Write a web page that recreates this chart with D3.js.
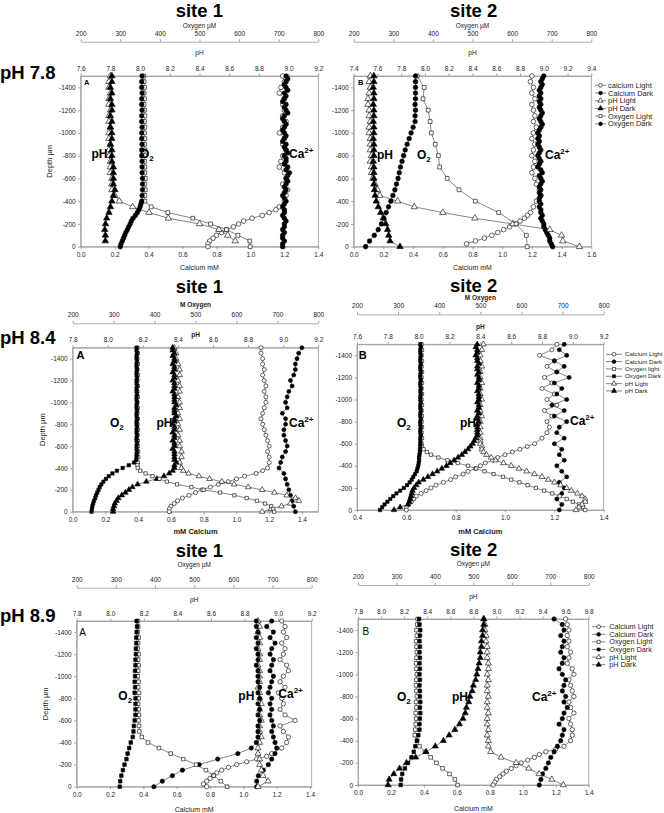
<!DOCTYPE html>
<html>
<head>
<meta charset="utf-8">
<script src="https://d3js.org/d3.v7.min.js"></script>
<style>
  html, body { margin: 0; padding: 0; background: #fff; }
  svg { display: block; font-family: 'Liberation Sans', Arial, sans-serif; }
</style>
</head>
<body>
<script>
// depth steps (µm) used by the profiles
const DEPTH_25 = [
  -1500, -1475, -1450, -1425, -1400, -1375, -1350, -1325, -1300, -1275,
  -1250, -1225, -1200, -1175, -1150, -1125, -1100, -1075, -1050, -1025,
  -1000, -975, -950, -925, -900, -875, -850, -825, -800, -775,
  -750, -725, -700, -675, -650, -625, -600, -575, -550, -525,
  -500, -475, -450, -425, -400, -375, -350, -325, -300, -275,
  -250, -225, -200, -175, -150, -125, -100, -75, -50, -25,
  0];
const DEPTH_50 = [
  -1500, -1450, -1400, -1350, -1300, -1250, -1200, -1150, -1100, -1050,
  -1000, -950, -900, -850, -800, -750, -700, -650, -600, -550,
  -500, -450, -400, -350, -300, -250, -200, -150, -100, -50,
  0];
const zip = (ds, vs) => vs.map((v, i) => [ds[i], v]);

const DEPTH_TICKS = [-1400, -1200, -1000, -800, -600, -400, -200, 0];
const OXY_TICKS = [200, 300, 400, 500, 600, 700, 800];

// ---------- pH 7.8, site 1 ----------
const p1CaLight = [[-1500,1.19],[-1450,1.20],[-1400,1.18],[-1350,1.17],[-1300,1.20],[-1250,1.19],[-1200,1.20],[-1150,1.19],[-1100,1.21],[-1050,1.19],[-1000,1.17],[-950,1.20],[-900,1.19],[-850,1.21],[-800,1.19],[-750,1.18],[-700,1.17],[-650,1.20],[-600,1.21],[-550,1.19],[-500,1.22],[-450,1.21],[-400,1.20],[-350,1.17],[-325,1.15],[-300,1.11],[-275,1.07],[-250,1.01],[-225,0.96],[-200,0.93],[-175,0.90],[-150,0.86],[-125,0.83],[-100,0.80],[-75,0.78],[-50,0.76],[-25,0.75],[0,0.75]];
const p1CaDark = zip(DEPTH_25, [
  1.21,1.22,1.21,1.20,1.21,1.22,1.20,1.21,1.20,1.19,
  1.21,1.20,1.21,1.22,1.20,1.19,1.20,1.21,1.20,1.19,
  1.20,1.21,1.20,1.19,1.21,1.20,1.21,1.22,1.20,1.21,
  1.21,1.20,1.22,1.21,1.23,1.22,1.21,1.22,1.21,1.20,
  1.21,1.20,1.19,1.20,1.21,1.20,1.19,1.20,1.20,1.19,
  1.20,1.21,1.20,1.20,1.19,1.20,1.19,1.19,1.20,1.19,
  1.19]);
const p1PhLight = zip(DEPTH_50, [
  7.80,7.79,7.79,7.80,7.79,7.79,7.80,7.79,7.79,7.80,
  7.79,7.79,7.80,7.79,7.79,7.80,7.80,7.80,7.81,7.81,
  7.81,7.83,7.86,7.95,8.06,8.19,8.40,8.53,8.59,8.64]);
const p1PhDark = zip(DEPTH_50, [
  7.81,7.81,7.80,7.81,7.80,7.81,7.81,7.80,7.81,7.80,
  7.81,7.81,7.80,7.81,7.81,7.81,7.82,7.82,7.82,7.82,
  7.83,7.82,7.81,7.80,7.79,7.775,7.767,7.762,7.766,7.766]);
const p1O2Light = zip(DEPTH_50, [
  359,360,361,360,361,360,361,362,361,362,
  361,362,361,362,362,361,362,362,363,362,
  363,362,362,378,420,483,528,568,597,627,
  628]);
const p1O2Dark = [[-1500,355],[-1450,354],[-1400,354],[-1350,355],[-1300,354],[-1250,354],[-1200,355],[-1150,354],[-1100,354],[-1050,355],[-1000,354],[-950,354],[-900,355],[-850,354],[-800,354],[-750,355],[-700,355],[-650,355],[-600,356],[-550,356],[-500,356],[-450,355],[-400,354],[-375,352],[-350,350],[-325,347],[-300,343],[-275,338],[-250,332],[-225,328],[-200,325],[-175,321],[-150,318],[-125,314],[-100,311],[-75,308],[-50,305],[-25,302],[0,300]];

// ---------- pH 7.8, site 2 ----------
const p2CaLight = [[-1500,1.20],[-1450,1.19],[-1400,1.21],[-1350,1.20],[-1300,1.22],[-1250,1.20],[-1200,1.21],[-1150,1.22],[-1100,1.21],[-1050,1.23],[-1000,1.21],[-950,1.20],[-900,1.22],[-850,1.21],[-800,1.20],[-750,1.22],[-700,1.21],[-650,1.20],[-600,1.22],[-550,1.23],[-500,1.25],[-450,1.26],[-400,1.23],[-350,1.21],[-300,1.19],[-275,1.17],[-250,1.15],[-225,1.12],[-200,1.09],[-175,1.05],[-150,1.01],[-125,0.97],[-100,0.93],[-75,0.88],[-50,0.82],[-25,0.76]];
const p2CaDark = zip(DEPTH_25, [
  1.28,1.27,1.26,1.27,1.26,1.25,1.26,1.25,1.26,1.25,
  1.26,1.25,1.26,1.27,1.26,1.25,1.26,1.27,1.26,1.25,
  1.24,1.25,1.24,1.25,1.24,1.25,1.26,1.25,1.24,1.25,
  1.26,1.25,1.24,1.26,1.27,1.25,1.26,1.27,1.26,1.25,
  1.26,1.25,1.26,1.25,1.25,1.26,1.25,1.26,1.26,1.27,
  1.26,1.27,1.28,1.28,1.29,1.30,1.31,1.32,1.32,1.33,
  1.34]);
const p2PhLight = zip(DEPTH_50, [
  7.54,7.53,7.54,7.53,7.52,7.52,7.53,7.53,7.54,7.53,
  7.53,7.54,7.54,7.54,7.55,7.54,7.55,7.55,7.56,7.58,
  7.60,7.62,7.77,7.91,8.15,8.42,8.74,9.05,9.15,9.16,
  9.30]);
const p2PhDark = zip(DEPTH_50, [
  7.57,7.57,7.565,7.57,7.57,7.565,7.57,7.57,7.565,7.57,
  7.57,7.565,7.57,7.57,7.57,7.565,7.57,7.57,7.57,7.57,
  7.575,7.58,7.59,7.607,7.627,7.649,7.67,7.685,7.695,7.706,
  7.79]);
const p2O2Light = [[-1500,360],[-1400,378],[-1300,375],[-1200,388],[-1100,393],[-1000,396],[-900,406],[-800,414],[-700,417],[-600,436],[-500,466],[-400,507],[-300,566],[-200,610],[-100,636],[0,638]];
const p2O2Dark = zip(DEPTH_50, [
  356,356,356,356,356,355,356,355,355,350,
  345,340,335,330,326,322,318,315,312,308,
  304,299,294,288,282,276,270,262,252,240,
  230]);

// ---------- pH 8.4, site 1 ----------
const p3CaLight = [[-1500,1.15],[-1450,1.15],[-1400,1.16],[-1350,1.16],[-1300,1.17],[-1250,1.16],[-1200,1.17],[-1150,1.18],[-1100,1.17],[-1050,1.18],[-1000,1.18],[-950,1.17],[-900,1.16],[-850,1.15],[-800,1.16],[-750,1.17],[-700,1.18],[-650,1.19],[-600,1.20],[-550,1.19],[-500,1.20],[-450,1.20],[-400,1.19],[-375,1.16],[-350,1.12],[-325,1.05],[-300,1.00],[-275,0.95],[-250,0.89],[-225,0.84],[-200,0.79],[-175,0.75],[-150,0.71],[-125,0.67],[-100,0.64],[-75,0.62],[-50,0.60],[-25,0.59],[0,0.59]];
const p3CaDark = zip(DEPTH_50, [
  1.40,1.38,1.37,1.36,1.36,1.35,1.33,1.34,1.32,1.31,
  1.30,1.31,1.28,1.30,1.30,1.29,1.29,1.30,1.31,1.30,
  1.28,1.27,1.26,1.29,1.30,1.31,1.32,1.33,1.34,1.35,
  1.36]);
const p3PhLight = [[-1500,8.38],[-1450,8.39],[-1400,8.39],[-1350,8.40],[-1300,8.41],[-1250,8.41],[-1200,8.40],[-1150,8.41],[-1100,8.41],[-1050,8.40],[-1000,8.41],[-950,8.41],[-900,8.40],[-850,8.41],[-800,8.40],[-750,8.41],[-700,8.40],[-650,8.41],[-600,8.41],[-550,8.42],[-500,8.42],[-450,8.41],[-400,8.42],[-375,8.43],[-350,8.46],[-325,8.52],[-300,8.58],[-275,8.65],[-250,8.72],[-225,8.80],[-200,8.88],[-175,8.95],[-150,9.02],[-125,9.07],[-100,9.09],[-75,9.04],[-50,8.99],[-25,8.93],[0,8.88]];
const p3PhDark = zip(DEPTH_25, [
  8.37,8.37,8.38,8.37,8.38,8.38,8.37,8.38,8.38,8.37,
  8.38,8.38,8.37,8.38,8.38,8.38,8.37,8.38,8.38,8.38,
  8.38,8.39,8.38,8.38,8.38,8.39,8.38,8.38,8.37,8.38,
  8.38,8.37,8.38,8.38,8.37,8.38,8.38,8.37,8.38,8.38,
  8.38,8.38,8.39,8.38,8.38,8.37,8.35,8.32,8.28,8.22,
  8.17,8.14,8.12,8.10,8.08,8.06,8.05,8.04,8.035,8.03,
  8.03]);
const p3O2Light = [[-1500,358],[-1450,359],[-1400,358],[-1350,359],[-1300,358],[-1250,359],[-1200,358],[-1150,359],[-1100,358],[-1050,359],[-1000,358],[-950,359],[-900,358],[-850,359],[-800,358],[-750,359],[-700,358],[-650,359],[-600,359],[-550,360],[-500,360],[-450,359],[-425,358],[-400,359],[-375,365],[-350,378],[-325,395],[-300,412],[-275,430],[-250,455],[-225,490],[-200,520],[-175,560],[-150,595],[-125,625],[-100,650],[-75,670],[-50,685],[-25,690],[0,692]];
const p3O2Dark = zip(DEPTH_25, [
  356,356,357,356,356,357,356,356,357,356,
  356,357,356,356,357,356,356,357,356,356,
  357,356,356,357,356,356,357,356,356,357,
  356,356,357,356,356,357,356,356,357,356,
  356,355,350,337,322,308,297,288,281,275,
  270,266,263,260,257,255,252,250,248,247,
  246]);

// ---------- pH 8.4, site 2 ----------
const p4CaLight = [[-1500,1.21],[-1450,1.19],[-1400,1.14],[-1350,1.20],[-1300,1.17],[-1250,1.21],[-1200,1.16],[-1150,1.19],[-1100,1.15],[-1050,1.20],[-1000,1.17],[-950,1.21],[-900,1.16],[-850,1.19],[-800,1.17],[-750,1.18],[-700,1.17],[-650,1.15],[-600,1.12],[-575,1.09],[-550,1.06],[-525,1.03],[-500,1.00],[-475,0.97],[-450,0.95],[-425,0.92],[-400,0.90],[-375,0.88],[-350,0.85],[-325,0.83],[-300,0.80],[-275,0.78],[-250,0.75],[-225,0.72],[-200,0.70],[-175,0.68],[-150,0.66],[-125,0.64],[-100,0.63],[-75,0.62],[-50,0.61],[-25,0.60],[0,0.60]];
const p4CaDark = zip(DEPTH_50, [
  1.24,1.22,1.25,1.20,1.24,1.21,1.26,1.20,1.23,1.21,
  1.25,1.19,1.24,1.20,1.25,1.22,1.21,1.24,1.20,1.23,
  1.22,1.24,1.21,1.23,1.25,1.22,1.24,1.23,1.21,1.23,
  1.22]);
const p4O2Light = [[-1500,357],[-1450,358],[-1400,357],[-1350,358],[-1300,357],[-1250,358],[-1200,357],[-1150,358],[-1100,357],[-1050,358],[-1000,357],[-950,358],[-900,357],[-850,358],[-800,357],[-750,358],[-700,357],[-650,358],[-600,357],[-575,358],[-550,362],[-525,370],[-500,380],[-475,398],[-450,420],[-425,445],[-400,470],[-375,490],[-350,510],[-325,532],[-300,555],[-275,575],[-250,595],[-225,615],[-200,635],[-175,655],[-150,675],[-125,693],[-100,710],[-75,725],[-50,740],[-25,750],[0,755]];
const p4O2Dark = zip(DEPTH_25, [
  354,355,354,354,355,354,354,355,354,354,
  355,354,354,355,354,354,355,354,355,354,
  354,355,354,354,355,354,354,355,354,354,
  355,354,354,355,354,354,354,354,353,353,
  352,351,351,350,349,347,345,341,337,333,
  328,322,314,305,296,288,281,274,267,261,
  256]);
const p4PhLight = [[-1500,8.42],[-1450,8.41],[-1400,8.40],[-1350,8.40],[-1300,8.41],[-1250,8.40],[-1200,8.40],[-1150,8.41],[-1100,8.40],[-1050,8.40],[-1000,8.41],[-950,8.40],[-900,8.40],[-850,8.41],[-800,8.40],[-750,8.40],[-700,8.40],[-650,8.40],[-625,8.40],[-600,8.40],[-575,8.41],[-550,8.41],[-525,8.42],[-500,8.44],[-475,8.47],[-450,8.50],[-425,8.55],[-400,8.60],[-375,8.65],[-350,8.70],[-325,8.75],[-300,8.80],[-275,8.84],[-250,8.88],[-225,8.92],[-200,8.96],[-175,8.99],[-150,9.03],[-125,9.06],[-100,9.08],[-75,9.08],[-50,9.06],[-25,9.04],[0,9.02]];
const p4PhDark = zip(DEPTH_25, [
  8.38,8.37,8.38,8.38,8.37,8.38,8.38,8.39,8.38,8.38,
  8.39,8.38,8.39,8.39,8.38,8.39,8.39,8.38,8.39,8.39,
  8.39,8.38,8.39,8.39,8.38,8.39,8.38,8.38,8.39,8.38,
  8.38,8.38,8.38,8.38,8.37,8.36,8.35,8.335,8.32,8.30,
  8.28,8.255,8.23,8.205,8.18,8.15,8.12,8.09,8.06,8.03,
  8.00,7.985,7.97,7.96,7.955,7.95,7.945,7.94,7.93,7.88,
  7.84]);

// ---------- pH 8.9, site 1 ----------
const p5CaLight = [[-1500,1.23],[-1450,1.25],[-1400,1.24],[-1350,1.26],[-1300,1.23],[-1250,1.25],[-1200,1.24],[-1150,1.22],[-1100,1.26],[-1050,1.27],[-1000,1.24],[-950,1.22],[-900,1.25],[-850,1.21],[-800,1.23],[-750,1.24],[-700,1.22],[-650,1.25],[-600,1.31],[-550,1.22],[-500,1.24],[-450,1.27],[-400,1.26],[-350,1.23],[-300,1.17],[-275,1.14],[-250,1.08],[-225,1.02],[-200,0.96],[-175,0.91],[-150,0.87],[-125,0.84],[-100,0.82],[-75,0.80],[-50,0.78],[-25,0.76],[0,0.78]];
const p5CaDark = zip(DEPTH_50, [
  1.17,1.14,1.18,1.16,1.19,1.17,1.16,1.18,1.17,1.16,
  1.18,1.17,1.16,1.15,1.17,1.16,1.17,1.16,1.17,1.18,
  1.17,1.18,1.19,1.20,1.19,1.17,1.15,1.12,1.09,1.08,
  1.08]);
const p5PhLight = zip(DEPTH_50, [
  8.88,8.89,8.88,8.89,8.89,8.88,8.89,8.89,8.88,8.89,
  8.89,8.89,8.88,8.89,8.89,8.90,8.89,8.89,8.90,8.89,
  8.89,8.90,8.89,8.88,8.88,8.89,8.89,8.90,8.91,8.94,
  8.88]);
const p5PhDark = zip(DEPTH_50, [
  8.87,8.87,8.88,8.87,8.88,8.87,8.88,8.88,8.87,8.88,
  8.88,8.88,8.89,8.88,8.89,8.88,8.89,8.88,8.89,8.88,
  8.88,8.88,8.87,8.84,8.76,8.64,8.53,8.43,8.37,8.31,
  8.26]);
const p5O2Light = [[-1500,356],[-1450,357],[-1400,356],[-1350,358],[-1300,357],[-1250,356],[-1200,358],[-1150,357],[-1100,358],[-1050,357],[-1000,356],[-950,358],[-900,357],[-850,359],[-800,358],[-750,357],[-700,358],[-650,359],[-600,358],[-550,359],[-500,360],[-450,366],[-400,382],[-350,410],[-300,440],[-250,472],[-200,505],[-150,530],[-100,550],[-50,568],[0,584]];
const p5O2Dark = zip(DEPTH_50, [
  353,354,353,352,352,351,351,350,350,349,
  349,348,349,348,350,350,350,350,348,346,
  345,343,338,334,330,327,322,318,314,311,
  310]);

// ---------- pH 8.9, site 2 ----------
const p6CaLight = [[-1500,1.26],[-1450,1.27],[-1400,1.28],[-1350,1.27],[-1300,1.28],[-1250,1.27],[-1200,1.29],[-1150,1.28],[-1100,1.27],[-1050,1.30],[-1000,1.31],[-950,1.28],[-900,1.29],[-850,1.30],[-800,1.31],[-750,1.28],[-700,1.29],[-650,1.31],[-600,1.28],[-550,1.29],[-500,1.30],[-450,1.30],[-400,1.29],[-350,1.25],[-325,1.20],[-300,1.14],[-275,1.10],[-250,1.07],[-225,1.03],[-200,0.99],[-175,0.96],[-150,0.93],[-125,0.90],[-100,0.88],[-75,0.86],[-50,0.84],[-25,0.83],[0,0.82]];
const p6CaDark = zip(DEPTH_50, [
  1.19,1.24,1.25,1.23,1.25,1.24,1.23,1.25,1.24,1.22,
  1.24,1.26,1.25,1.24,1.26,1.25,1.27,1.25,1.24,1.22,
  1.25,1.24,1.23,1.21,1.19,1.17,1.155,1.14,1.12,1.11,
  1.10]);
const p6O2Light = zip(DEPTH_50, [
  355,354,352,353,351,352,353,352,351,352,
  353,352,351,352,353,351,352,350,351,350,
  349,348,354,360,374,389,404,420,438,452,
  459]);
const p6O2Dark = zip(DEPTH_50, [
  359,360,362,361,360,361,360,361,360,361,
  360,361,360,361,361,362,361,362,361,360,
  360,357,353,349,345,339,330,322,315,312,
  311]);
const p6PhLight = zip(DEPTH_50, [
  8.89,8.90,8.90,8.91,8.91,8.92,8.92,8.92,8.93,8.93,
  8.92,8.93,8.92,8.92,8.93,8.92,8.92,8.93,8.92,8.92,
  8.93,8.92,8.93,8.93,8.95,9.04,9.17,9.28,9.37,9.48,
  9.58]);
const p6PhDark = zip(DEPTH_50, [
  8.89,8.89,8.88,8.88,8.87,8.87,8.86,8.86,8.85,8.84,
  8.83,8.82,8.80,8.79,8.77,8.76,8.74,8.73,8.71,8.68,
  8.64,8.59,8.54,8.47,8.39,8.30,8.22,8.16,8.11,8.07,
  8.06]);

// legends
const p2Legend = ['calcium Light', 'Calcium Dark', 'pH Light', 'pH Dark', 'Oxygen Light', 'Oxygen Dark'];
const p4Legend = ['Calcium Light', 'Calcium Dark', 'Oxygen light', 'Oxygen Dark', 'pH Light', 'pH Dark'];
const p6Legend = ['Calcium Light', 'Calcium Dark', 'Oxygen Light', 'Oxygen Dark', 'pH Light', 'pH Dark'];

const FONT = "'Liberation Sans', Arial, sans-serif";
const W = 664, H = 813;

const svg = d3.select('body').append('svg')
  .attr('width', W).attr('height', H)
  .attr('viewBox', `0 0 ${W} ${H}`);

const SHAPES = { circle: d3.symbolCircle, square: d3.symbolSquare, triangle: d3.symbolTriangle };
const SIZE_SCALE = { circle: 1, square: 0.85, triangle: 1.05 };

function styleMarker(sel, shape, filled, size) {
  sel.attr('d', d3.symbol().type(SHAPES[shape]).size(size * SIZE_SCALE[shape]))
    .attr('fill', filled ? '#000' : '#fff')
    .attr('stroke', '#000')
    .attr('stroke-width', 0.6);
}

function mk(data, axis, shape, filled) {
  return { data, axis, shape, filled };
}

const PANELS = [
  {
    x0: 80.7, x1: 318.3, yTop: 76, yBot: 246.7,
    ca: [0, 1.4], caTicks: [0, 0.2, 0.4, 0.6, 0.8, 1.0, 1.2, 1.4],
    ph: [7.6, 9.2], phTicks: [7.6, 7.8, 8.0, 8.2, 8.4, 8.6, 8.8, 9.0, 9.2],
    oxyLineY: 41.7, oxyTitleY: 28, pHTitleY: 55, caTitleY: 269.5,
    oxyTitle: 'Oxygen µM', caTitle: 'Calcium mM', boldTitles: false, depthTitleX: 49,
    letter: { t: 'A', x: 84, y: 85, size: 7.5, bold: true },
    size: 17,
    series: [
      mk(p1CaLight, 'ca', 'circle', false), mk(p1CaDark, 'ca', 'circle', true),
      mk(p1PhLight, 'ph', 'triangle', false), mk(p1PhDark, 'ph', 'triangle', true),
      mk(p1O2Light, 'o2', 'square', false), mk(p1O2Dark, 'o2', 'circle', true)
    ],
    labels: [{ t: 'pH', x: 91.5, y: 158 }, { t: 'O2', x: 140, y: 158 }, { t: 'Ca2+', x: 289, y: 158 }]
  },
  {
    x0: 353.7, x1: 591.3, yTop: 76, yBot: 246.7,
    ca: [0, 1.6], caTicks: [0, 0.2, 0.4, 0.6, 0.8, 1.0, 1.2, 1.4, 1.6],
    ph: [7.4, 9.4], phTicks: [7.4, 7.6, 7.8, 8.0, 8.2, 8.4, 8.6, 8.8, 9.0, 9.2, 9.4],
    oxyLineY: 41.7, oxyTitleY: 28, pHTitleY: 55, caTitleY: 269.5,
    oxyTitle: 'Oxygen µM', caTitle: 'Calcium mM', boldTitles: false, depthTitleX: null,
    letter: { t: 'B', x: 358, y: 85, size: 7.5, bold: true },
    size: 17,
    series: [
      mk(p2CaLight, 'ca', 'circle', false), mk(p2CaDark, 'ca', 'circle', true),
      mk(p2PhLight, 'ph', 'triangle', false), mk(p2PhDark, 'ph', 'triangle', true),
      mk(p2O2Light, 'o2', 'square', false), mk(p2O2Dark, 'o2', 'circle', true)
    ],
    labels: [{ t: 'pH', x: 377, y: 159 }, { t: 'O2', x: 417, y: 159 }, { t: 'Ca2+', x: 545, y: 159 }],
    legend: { names: p2Legend, shapes: [['circle', false], ['circle', true], ['triangle', false], ['triangle', true], ['square', false], ['circle', true]],
      lx0: 595, lx1: 606, tx: 608, y0: 85.3, dy: 7.7, font: 7.5 }
  },
  {
    x0: 72.7, x1: 318.3, yTop: 347.7, yBot: 511.7,
    ca: [0, 1.5], caTicks: [0, 0.2, 0.4, 0.6, 0.8, 1.0, 1.2, 1.4],
    ph: [7.8, 9.2], phTicks: [7.8, 8.0, 8.2, 8.4, 8.6, 8.8, 9.0, 9.2],
    oxyLineY: 323.3, oxyTitleY: 306.5, pHTitleY: 336.5, caTitleY: 534,
    oxyTitle: 'M Oxygen', caTitle: 'mM Calcium', boldTitles: true, depthTitleX: 42,
    letter: { t: 'A', x: 76.5, y: 359, size: 11, bold: true },
    size: 13,
    series: [
      mk(p3CaLight, 'ca', 'circle', false), mk(p3CaDark, 'ca', 'circle', true),
      mk(p3PhLight, 'ph', 'triangle', false), mk(p3PhDark, 'ph', 'triangle', true),
      mk(p3O2Light, 'o2', 'square', false), mk(p3O2Dark, 'o2', 'square', true)
    ],
    labels: [{ t: 'O2', x: 110, y: 426.5 }, { t: 'pH', x: 156.5, y: 426.5 }, { t: 'Ca2+', x: 289, y: 426.5 }]
  },
  {
    x0: 357, x1: 603.7, yTop: 344.3, yBot: 510,
    ca: [0.4, 1.4], caTicks: [0.4, 0.6, 0.8, 1.0, 1.2, 1.4],
    ph: [7.6, 9.2], phTicks: [7.6, 7.8, 8.0, 8.2, 8.4, 8.6, 8.8, 9.0, 9.2],
    oxyLineY: 314.3, oxyTitleY: 300, pHTitleY: 329, caTitleY: 534,
    oxyTitle: 'M Oxygen', caTitle: 'mM Calcium', boldTitles: true, depthTitleX: null,
    letter: { t: 'B', x: 358.7, y: 359, size: 11, bold: true },
    size: 13,
    series: [
      mk(p4CaLight, 'ca', 'circle', false), mk(p4CaDark, 'ca', 'circle', true),
      mk(p4O2Light, 'o2', 'square', false), mk(p4O2Dark, 'o2', 'square', true),
      mk(p4PhLight, 'ph', 'triangle', false), mk(p4PhDark, 'ph', 'triangle', true)
    ],
    labels: [{ t: 'O2', x: 397, y: 426.5 }, { t: 'pH', x: 460, y: 426.5 }, { t: 'Ca2+', x: 570, y: 424.5 }],
    legend: { names: p4Legend, shapes: [['circle', false], ['circle', true], ['square', false], ['square', true], ['triangle', false], ['triangle', true]],
      lx0: 606, lx1: 622, tx: 625, y0: 354.3, dy: 7.33, font: 6.2 }
  },
  {
    x0: 76.7, x1: 311.7, yTop: 621, yBot: 786.7,
    ca: [0, 1.41], caTicks: [0, 0.2, 0.4, 0.6, 0.8, 1.0, 1.2, 1.4],
    ph: [7.8, 9.2], phTicks: [7.8, 8.0, 8.2, 8.4, 8.6, 8.8, 9.0, 9.2],
    oxyLineY: 587.7, oxyTitleY: 566.5, pHTitleY: 602.3, caTitleY: 811.8,
    oxyTitle: 'Oxygen µM', caTitle: 'Calcium mM', boldTitles: false, depthTitleX: 45,
    letter: { t: 'A', x: 79.3, y: 635.5, size: 10, bold: false },
    size: 15,
    series: [
      mk(p5CaLight, 'ca', 'circle', false), mk(p5CaDark, 'ca', 'circle', true),
      mk(p5PhLight, 'ph', 'triangle', false), mk(p5PhDark, 'ph', 'circle', true),
      mk(p5O2Light, 'o2', 'square', false), mk(p5O2Dark, 'o2', 'square', true)
    ],
    labels: [{ t: 'O2', x: 118.3, y: 700 }, { t: 'pH', x: 238.3, y: 700 }, { t: 'Ca2+', x: 278.3, y: 698 }]
  },
  {
    x0: 358, x1: 588.7, yTop: 619, yBot: 785,
    ca: [0, 1.4], caTicks: [0, 0.2, 0.4, 0.6, 0.8, 1.0, 1.2, 1.4],
    ph: [7.8, 9.8], phTicks: [7.8, 8.0, 8.2, 8.4, 8.6, 8.8, 9.0, 9.2, 9.4, 9.6, 9.8],
    oxyLineY: 585, oxyTitleY: 565.5, pHTitleY: 599, caTitleY: 810.5,
    oxyTitle: 'Oxygen µM', caTitle: 'Calcium mM', boldTitles: false, depthTitleX: null,
    letter: { t: 'B', x: 362.5, y: 635, size: 10, bold: false },
    size: 15,
    series: [
      mk(p6CaLight, 'ca', 'circle', false), mk(p6CaDark, 'ca', 'circle', true),
      mk(p6O2Light, 'o2', 'square', false), mk(p6O2Dark, 'o2', 'square', true),
      mk(p6PhLight, 'ph', 'triangle', false), mk(p6PhDark, 'ph', 'triangle', true)
    ],
    labels: [{ t: 'O2', x: 397, y: 700.5 }, { t: 'pH', x: 452, y: 700.5 }, { t: 'Ca2+', x: 532, y: 700.5 }],
    legend: { names: p6Legend, shapes: [['circle', false], ['circle', true], ['square', false], ['square', true], ['triangle', false], ['triangle', true]],
      lx0: 592, lx1: 605.3, tx: 609.3, y0: 626.7, dy: 7.6, font: 7.3 }
  }
];

function styleAxis(sel) {
  sel.selectAll('text').attr('font-size', '6.5px').attr('font-family', FONT).attr('fill', '#222');
  sel.selectAll('.tick line').attr('stroke', '#666').attr('stroke-width', 0.6);
  sel.select('.domain').attr('stroke', '#999').attr('stroke-width', 0.8);
}

function fmtTick(d) {
  return d.toFixed(1);
}

function inlineLabel(g, lab) {
  const t = g.append('text')
    .attr('x', lab.x).attr('y', lab.y)
    .attr('font-family', FONT).attr('font-weight', 'bold').attr('font-size', '12px')
    .attr('fill', '#000');
  if (lab.t === 'O2') {
    t.append('tspan').text('O');
    t.append('tspan').attr('font-size', '8px').attr('dy', 3).text('2');
  } else if (lab.t === 'Ca2+') {
    t.append('tspan').text('Ca');
    t.append('tspan').attr('font-size', '8px').attr('dy', -5).text('2+');
  } else {
    t.text(lab.t);
  }
}

function drawPanel(p) {
  const g = svg.append('g');
  const xs = {
    ca: d3.scaleLinear().domain(p.ca).range([p.x0, p.x1]),
    ph: d3.scaleLinear().domain(p.ph).range([p.x0, p.x1]),
    o2: d3.scaleLinear().domain([200, 800]).range([p.x0, p.x1])
  };
  const y = d3.scaleLinear().domain([-1500, 0]).range([p.yTop, p.yBot]);
  const cx = (p.x0 + p.x1) / 2;

  // oxygen axis (floating above)
  g.append('g')
    .attr('transform', `translate(0,${p.oxyLineY})`)
    .call(d3.axisTop(xs.o2).tickValues(OXY_TICKS).tickSizeInner(2.5).tickSizeOuter(0).tickPadding(3.5).tickFormat(d3.format('d')))
    .call(styleAxis);

  // pH axis on plot top
  g.append('g')
    .attr('transform', `translate(0,${p.yTop})`)
    .call(d3.axisTop(xs.ph).tickValues(p.phTicks).tickSizeInner(2.5).tickSizeOuter(0).tickPadding(3).tickFormat(fmtTick))
    .call(styleAxis);

  // calcium axis
  g.append('g')
    .attr('transform', `translate(0,${p.yBot})`)
    .call(d3.axisBottom(xs.ca).tickValues(p.caTicks).tickSizeInner(2.5).tickSizeOuter(0).tickPadding(3).tickFormat(fmtTick))
    .call(styleAxis);

  // depth axis
  g.append('g')
    .attr('transform', `translate(${p.x0},0)`)
    .call(d3.axisLeft(y).tickValues(DEPTH_TICKS).tickSizeInner(2.5).tickSizeOuter(0).tickPadding(2.5).tickFormat(d => String(d)))
    .call(styleAxis);

  // frame
  g.append('rect')
    .attr('x', p.x0).attr('y', p.yTop)
    .attr('width', p.x1 - p.x0).attr('height', p.yBot - p.yTop)
    .attr('fill', 'none').attr('stroke', '#999').attr('stroke-width', 0.8);

  // titles
  const titleWeight = p.boldTitles ? 'bold' : 'normal';
  g.append('text').attr('x', cx).attr('y', p.oxyTitleY).attr('text-anchor', 'middle')
    .attr('font-family', FONT).attr('font-size', '6.5px').attr('font-weight', titleWeight).attr('fill', '#222')
    .text(p.oxyTitle);
  g.append('text').attr('x', cx).attr('y', p.pHTitleY).attr('text-anchor', 'middle')
    .attr('font-family', FONT).attr('font-size', '6.5px').attr('font-weight', titleWeight).attr('fill', '#222')
    .text('pH');
  g.append('text').attr('x', cx).attr('y', p.caTitleY).attr('text-anchor', 'middle')
    .attr('font-family', FONT).attr('font-size', p.boldTitles ? '7.5px' : '7px').attr('font-weight', titleWeight).attr('fill', '#222')
    .text(p.caTitle);
  if (p.depthTitleX !== null) {
    const yc = (p.yTop + p.yBot) / 2;
    g.append('text')
      .attr('transform', `translate(${p.depthTitleX},${yc}) rotate(-90)`)
      .attr('text-anchor', 'middle').attr('dy', '0.35em')
      .attr('font-family', FONT).attr('font-size', '7.5px').attr('fill', '#222')
      .text('Depth µm');
  }

  // panel letter
  g.append('text').attr('x', p.letter.x).attr('y', p.letter.y)
    .attr('font-family', FONT).attr('font-size', p.letter.size + 'px')
    .attr('font-weight', p.letter.bold ? 'bold' : 'normal').attr('fill', '#000')
    .text(p.letter.t);

  // series
  for (const s of p.series) {
    const xScale = xs[s.axis];
    g.append('path').datum(s.data)
      .attr('fill', 'none').attr('stroke', '#333').attr('stroke-width', 0.6)
      .attr('d', d3.line().x(d => xScale(d[1])).y(d => y(d[0])));
    g.append('g').selectAll('path').data(s.data).join('path')
      .attr('transform', d => `translate(${xScale(d[1])},${y(d[0])})`)
      .call(styleMarker, s.shape, s.filled, p.size);
  }

  p.labels.forEach(lab => inlineLabel(g, lab));

  if (p.legend) {
    const L = p.legend;
    L.names.forEach((name, i) => {
      const ry = L.y0 + i * L.dy;
      const row = g.append('g');
      row.append('line').attr('x1', L.lx0).attr('x2', L.lx1).attr('y1', ry).attr('y2', ry)
        .attr('stroke', '#333').attr('stroke-width', 0.6);
      row.append('path')
        .attr('transform', `translate(${(L.lx0 + L.lx1) / 2},${ry})`)
        .call(styleMarker, L.shapes[i][0], L.shapes[i][1], 11);
      row.append('text').attr('x', L.tx).attr('y', ry).attr('dy', '0.35em')
        .attr('font-family', FONT).attr('font-size', L.font + 'px').attr('fill', '#222')
        .text(name);
    });
  }
}

PANELS.forEach(drawPanel);

// site headers and pH row labels
const SITE_TITLES = [
  { t: 'site 1', x: 199.3, y: 16.8 }, { t: 'site 2', x: 473.7, y: 16.8 },
  { t: 'site 1', x: 199.3, y: 293 }, { t: 'site 2', x: 473.7, y: 291.5 },
  { t: 'site 1', x: 199.3, y: 556.5 }, { t: 'site 2', x: 473.7, y: 555.5 }
];
const ROW_LABELS = [{ t: 'pH 7.8', y: 78.5 }, { t: 'pH 8.4', y: 344.3 }, { t: 'pH 8.9', y: 621.5 }];

SITE_TITLES.forEach(s => {
  svg.append('text').attr('x', s.x).attr('y', s.y).attr('text-anchor', 'middle')
    .attr('font-family', FONT).attr('font-weight', 'bold').attr('font-size', '18.5px')
    .text(s.t);
});
ROW_LABELS.forEach(r => {
  svg.append('text').attr('x', 0).attr('y', r.y)
    .attr('font-family', FONT).attr('font-weight', 'bold').attr('font-size', '18.5px')
    .text(r.t);
});
</script>
</body>
</html>
